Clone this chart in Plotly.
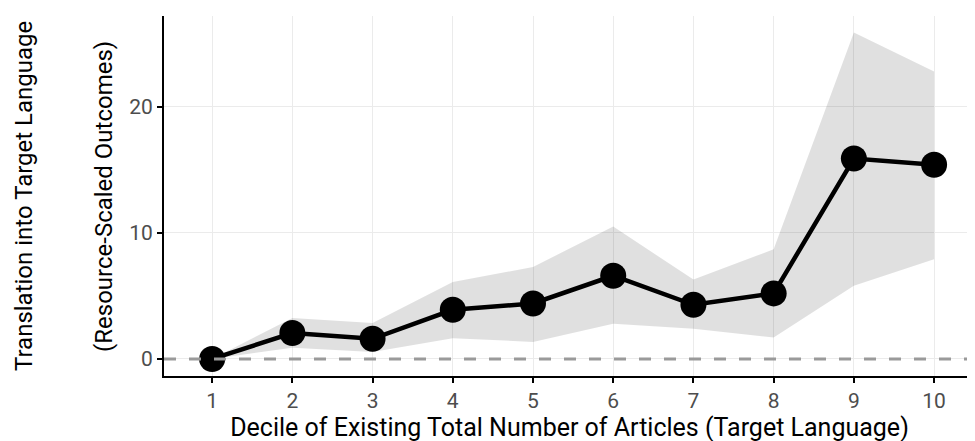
import plotly.graph_objects as go

deciles = [1, 2, 3, 4, 5, 6, 7, 8, 9, 10]
estimate = [0.0, 2.06, 1.6, 3.9, 4.4, 6.6, 4.3, 5.2, 15.9, 15.4]
upper = [0.0, 3.25, 2.85, 6.1, 7.3, 10.5, 6.3, 8.7, 25.9, 22.8]
lower = [0.0, 0.9, 0.55, 1.65, 1.35, 2.8, 2.4, 1.7, 5.8, 7.9]
x_ticks = [1, 2, 3, 4, 5, 6, 7, 8, 9, 10]
y_ticks = [0, 10, 20]

fig = go.Figure()
fig.add_trace(go.Scatter(x=deciles, y=upper, mode="lines", line=dict(width=0),
                         showlegend=False, hoverinfo="skip"))
fig.add_trace(go.Scatter(x=deciles, y=lower, mode="lines", line=dict(width=0),
                         fill="tonexty", fillcolor="rgba(0,0,0,0.12)",
                         showlegend=False, hoverinfo="skip"))
fig.add_shape(type="line", xref="paper", x0=0, x1=1, yref="y", y0=0, y1=0,
              line=dict(color="#9a9a9a", width=2.8, dash="12px,13px"), layer="above")
fig.add_trace(go.Scatter(x=deciles, y=estimate, mode="lines+markers",
                         line=dict(color="black", width=4.5),
                         marker=dict(color="black", size=26),
                         showlegend=False))

fig.update_layout(
    width=975, height=441,
    margin=dict(l=156, r=8, t=8, b=73),
    plot_bgcolor="white", paper_bgcolor="white",
    font=dict(family="Roboto", color="black"),
    xaxis=dict(range=[0.40, 10.51], tickvals=x_ticks, showgrid=True,
               gridcolor="#ebebeb", gridwidth=1, zeroline=False,
               showline=True, linecolor="black", linewidth=1.8,
               ticks="outside", ticklen=5, tickcolor="black", tickwidth=1.8,
               tickfont=dict(size=21, color="#4d4d4d", family="Roboto"),
               title=dict(text="Decile of Existing Total Number of Articles (Target Language)",
                          font=dict(size=25, color="black", family="Roboto"), standoff=4)),
    yaxis=dict(range=[-1.35, 27.2], tickvals=y_ticks, showgrid=True,
               gridcolor="#ebebeb", gridwidth=1, zeroline=False,
               showline=True, linecolor="black", linewidth=1.8,
               ticks="outside", ticklen=5, tickcolor="black", tickwidth=1.8,
               tickfont=dict(size=21, color="#4d4d4d", family="Roboto")),
)
fig.add_annotation(text="Translation into Target Language", xref="paper", yref="paper",
                   x=-0.1726, xanchor="center", y=0.5, yanchor="middle", textangle=-90,
                   showarrow=False, font=dict(size=24, color="black", family="Roboto"))
fig.add_annotation(text="(Resource-Scaled Outcomes)", xref="paper", yref="paper",
                   x=-0.074, xanchor="center", y=0.5, yanchor="middle", textangle=-90,
                   showarrow=False, font=dict(size=24, color="black", family="Roboto"))

fig.write_html("out.html")
